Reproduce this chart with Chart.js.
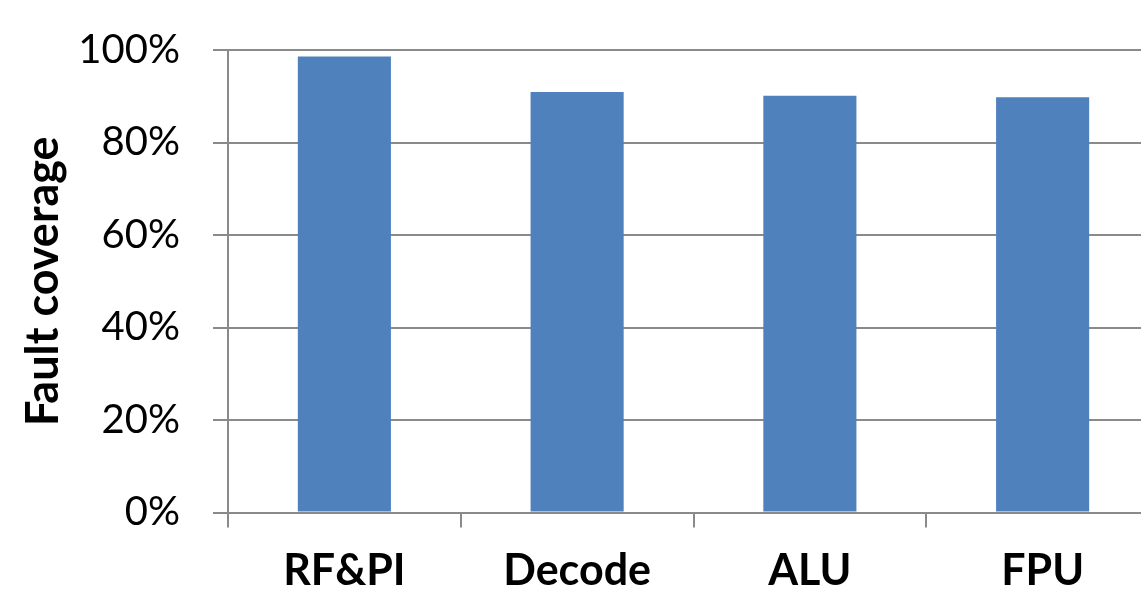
<!DOCTYPE html>
<html>
<head>
<meta charset="utf-8">
<title>Fault coverage</title>
<script src="https://cdn.jsdelivr.net/npm/chart.js@4/dist/chart.umd.min.js"></script>
<style>
  html, body { margin: 0; padding: 0; background: #ffffff; overflow: hidden; }
  #wrap { width: 1141px; height: 592px; overflow: hidden; }
  canvas { display: block; }
</style>
</head>
<body>
<div id="wrap"><canvas id="chart" width="1159" height="592"></canvas></div>
<script>
// Units under test and their fault coverage (%)
const categories = ['RF&PI', 'Decode', 'ALU', 'FPU'];
const coverage = [98.6, 90.9, 90.1, 89.8];
const yTicks = [0, 20, 40, 60, 80, 100];

const GRID = '#8a8a8a';

new Chart(document.getElementById('chart'), {
  type: 'bar',
  data: {
    labels: categories,
    datasets: [{
      label: 'Fault coverage',
      data: coverage,
      backgroundColor: '#4f81bd',
      borderWidth: 0,
      barPercentage: 0.4,
      categoryPercentage: 1.0
    }]
  },
  options: {
    responsive: false,
    animation: false,
    devicePixelRatio: 1,
    layout: { padding: { top: 50, right: 0, bottom: 0, left: 0 } },
    plugins: {
      legend: { display: false },
      tooltip: { enabled: false }
    },
    scales: {
      x: {
        grid: {
          display: true,
          offset: true,
          drawOnChartArea: false,
          drawTicks: true,
          tickLength: 15,
          color: GRID,
          lineWidth: 2
        },
        border: { display: true, color: GRID, width: 2 },
        ticks: {
          color: '#000000',
          padding: 18,
          font: { family: 'Lato', size: 43, weight: 'bold' },
          maxRotation: 0
        },
        afterFit: (scale) => {
          scale.height = 79.5;
          scale.paddingLeft = 0;
          scale.paddingRight = 0;
        }
      },
      y: {
        min: 0,
        max: 100,
        afterBuildTicks: (scale) => { scale.ticks = yTicks.map(v => ({ value: v })); },
        grid: {
          color: GRID,
          lineWidth: 2,
          drawTicks: true,
          tickLength: 15
        },
        border: { display: true, color: GRID, width: 2 },
        ticks: {
          color: '#000000',
          padding: 33,
          font: { family: 'Lato', size: 40 },
          callback: (v) => v + '%'
        },
        title: {
          display: true,
          text: 'Fault coverage',
          color: '#000000',
          font: { family: 'Lato', size: 45, weight: 'bold' },
          padding: { top: 16, bottom: 0 }
        },
        afterFit: (scale) => {
          scale.width = 228;
          scale.paddingTop = 0;
          scale.paddingBottom = 0;
        }
      }
    }
  }
});
</script>
</body>
</html>
